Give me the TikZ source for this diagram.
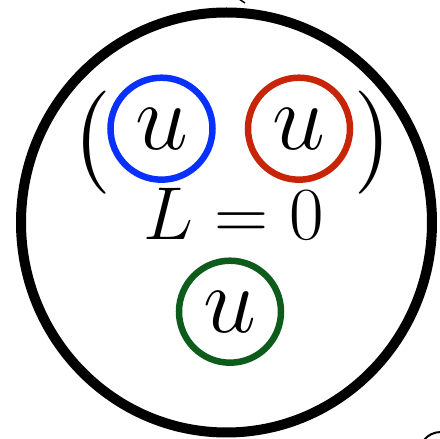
\documentclass[tikz,border=0pt]{standalone}
\usepackage{fix-cm}
\usepackage{graphicx}
\usepackage{tikz}
\usetikzlibrary{positioning}
\definecolor{ublue}{RGB}{8,48,255}
\definecolor{ured}{RGB}{200,36,8}
\definecolor{ugreen}{RGB}{14,92,28}

\begin{document}
\begin{tikzpicture}[x=1pt, y=1pt,
    quark/.style={circle, line width=6.5pt, minimum size=102pt, inner sep=0pt,
        font=\fontsize{95}{95}\selectfont},
    paren/.style={inner sep=0pt}
]
    \useasboundingbox (0,0) rectangle (440,439);

    % Outer bag
    \draw[line width=10pt] (226.5,216.5) ellipse [x radius=205.5, y radius=210];

    % Quark pair in brackets
    \node[quark, draw=ublue] (qa) at (161.5,310.3) {$u$};
    \node[quark, draw=ured] (qb) at (299,310.3) {$u$};
    \node[paren] (lp) at (90.5,296.5) {\scalebox{8.6}{$\bigl($}};
    \node[paren] (rp) at (375,296.5) {\scalebox{8.6}{$\bigr)$}};

    % Label
    \node[anchor=base, inner sep=0pt, font=\fontsize{75}{75}\selectfont] (lab) at (234,199) {$L=0$};

    % Third quark
    \node[quark, draw=ugreen] (qc) at (230,127.3) {$u$};

    % Cut-off fragments at the edges
    \draw[line width=1.5pt] (239,440) -- (245,436);
    \draw[line width=2pt] (424,-1) .. controls (428,4) and (434,7) .. (441,7);
\end{tikzpicture}
\end{document}
